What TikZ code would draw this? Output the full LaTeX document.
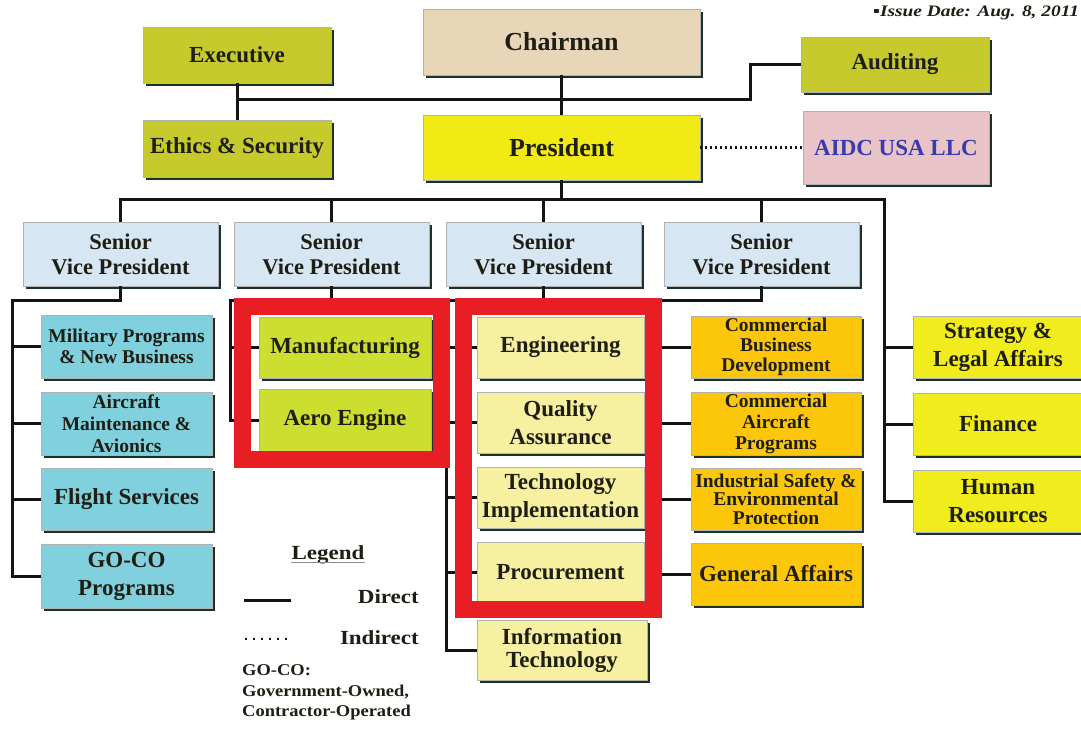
\documentclass[tikz,border=0pt]{standalone}
\usepackage{fontspec}
\setmainfont{Liberation Serif}
\usepackage{graphicx}
\usetikzlibrary{shadows}
\definecolor{olivec}{RGB}{198,202,44}
\definecolor{greenc}{RGB}{204,222,48}
\definecolor{beigec}{RGB}{232,214,184}
\definecolor{presc}{RGB}{242,234,20}
\definecolor{pinkc}{RGB}{232,196,200}
\definecolor{bluet}{RGB}{58,58,170}
\definecolor{svpc}{RGB}{214,230,242}
\definecolor{tealc}{RGB}{128,208,222}
\definecolor{palec}{RGB}{246,240,160}
\definecolor{orangec}{RGB}{252,198,10}
\definecolor{yellc}{RGB}{240,236,30}
\definecolor{redc}{RGB}{232,30,36}
\definecolor{txtc}{RGB}{30,30,20}
\definecolor{shadc}{RGB}{28,50,40}
\definecolor{linec}{RGB}{20,20,20}
\newcommand\fz[2]{\fontsize{#1}{#2}\selectfont\bfseries}
\tikzset{
  box/.style={draw=black!30, line width=0.8pt, inner sep=0pt, align=center, text=txtc,
    drop shadow={shadow xshift=3pt, shadow yshift=-3pt, fill=shadc, opacity=1}},
  conn/.style={draw=linec, line width=3pt},
  dotc/.style={draw=linec, line width=2.2pt, dash pattern=on 2pt off 3pt},
  hilite/.style={draw=redc, line width=17pt},
  legtext/.style={inner sep=0pt, text=txtc}
}
\begin{document}
\begin{tikzpicture}[x=1pt,y=-1pt]
\fill[white] (0,0) rectangle (1081,735);
\useasboundingbox (0,0) rectangle (1081,735);
\clip (0,0) rectangle (1081,735);

% top level
\node[box, fill=olivec, minimum width=188pt, minimum height=56pt, font=\fz{23}{25}] (exec) at (237,55) {Executive};
\node[box, fill=beigec, minimum width=277pt, minimum height=66pt, font=\fz{26}{28}] (chair) at (561.5,42) {Chairman};
\node[box, fill=olivec, minimum width=188pt, minimum height=55pt, font=\fz{23}{25}] (audit) at (895,64.5) {Auditing};
\node[box, fill=olivec, minimum width=188pt, minimum height=57pt, font=\fz{23}{25}] (ethics) at (237,148.5) {Ethics \& Security};
\node[box, fill=presc, minimum width=277pt, minimum height=65pt, font=\fz{26}{28}] (pres) at (561.5,147.5) {President};
\node[box, fill=pinkc, minimum width=186pt, minimum height=73pt, font=\fz{23}{25}, text=bluet] (aidc) at (896,147.5) {AIDC USA LLC};

% senior vice presidents
\foreach \n/\x in {svp1/120.5, svp2/331.5, svp3/543.5, svp4/761.5}
  \node[box, fill=svpc, minimum width=195pt, minimum height=64pt, font=\fz{22.5}{25}] (\n) at (\x,254) {Senior\\Vice President};

% column 1
\node[box, fill=tealc, minimum width=171pt, minimum height=63pt, font=\fz{19.5}{21}] (mil) at (126.5,346.5) {Military Programs\\\& New Business};
\node[box, fill=tealc, minimum width=171pt, minimum height=63pt, font=\fz{19.5}{22}] (acm) at (126.5,423.5) {Aircraft\\Maintenance \&\\Avionics};
\node[box, fill=tealc, minimum width=171pt, minimum height=62pt, font=\fz{23}{25}] (fs) at (126.5,499) {Flight Services};
\node[box, fill=tealc, minimum width=171pt, minimum height=64pt, font=\fz{23}{28}] (goco) at (126.5,576) {GO-CO\\Programs};

% column 2
\node[box, fill=greenc, minimum width=172pt, minimum height=61pt, font=\fz{23}{25}] (mfg) at (345,347.5) {Manufacturing};
\node[box, fill=greenc, minimum width=172pt, minimum height=62pt, font=\fz{23}{25}] (aero) at (345,420) {Aero Engine};

% column 3
\node[box, fill=palec, minimum width=167pt, minimum height=61pt, font=\fz{23}{25}] (eng) at (560.5,347.5) {Engineering};
\node[box, fill=palec, minimum width=167pt, minimum height=61pt, font=\fz{23}{28}] (qa) at (560.5,422.5) {Quality\\Assurance};
\node[box, fill=palec, minimum width=167pt, minimum height=61pt, font=\fz{23}{28}] (ti) at (560.5,497.5) {Technology\\Implementation};
\node[box, fill=palec, minimum width=167pt, minimum height=60pt, font=\fz{23}{25}] (proc) at (560.5,572) {Procurement};
\node[box, fill=palec, minimum width=170pt, minimum height=60pt, font=\fz{23}{23}] (it) at (562,650) {Information\\Technology};

% column 4
\node[box, fill=orangec, minimum width=170pt, minimum height=62pt, font=\fz{19.5}{20}] (cbd) at (776,347) {Commercial\\Business\\Development};
\node[box, fill=orangec, minimum width=170pt, minimum height=63pt, font=\fz{19.5}{21}] (cap) at (776,423.5) {Commercial\\Aircraft\\Programs};
\node[box, fill=orangec, minimum width=170pt, minimum height=62pt, font=\fz{19.5}{18.5}] (isep) at (776,499) {Industrial Safety \&\\Environmental\\Protection};
\node[box, fill=orangec, minimum width=170pt, minimum height=62pt, font=\fz{23}{25}] (ga) at (776,574) {General Affairs};

% column 5
\node[box, fill=yellc, minimum width=170pt, minimum height=62pt, font=\fz{23}{28}] (strat) at (998,347) {Strategy \&\\Legal Affairs};
\node[box, fill=yellc, minimum width=170pt, minimum height=62pt, font=\fz{23}{25}] (fin) at (998,424) {Finance};
\node[box, fill=yellc, minimum width=170pt, minimum height=62pt, font=\fz{23}{28}] (hres) at (998,501) {Human\\Resources};

% connectors: top
\coordinate (ja) at (750,100);
\draw[conn] (exec.south) -- (ethics.north);
\draw[conn] (exec.south |- ja) -- (ja) |- (audit.west);
\draw[conn] (chair.south) -- (pres.north);
\draw[dotc] (pres.east) -- (aidc.west);

\coordinate (hl) at (120.5,200);
\coordinate (hrr) at (884,200);
\draw[conn] (pres.south) -- (pres.south |- hl);
\draw[conn] (svp1.north) -- (hl) -- (hrr) |- (hres.west);
\draw[conn] (svp2.north) -- (svp2.north |- hl);
\draw[conn] (svp3.north) -- (svp3.north |- hl);
\draw[conn] (svp4.north) -- (svp4.north |- hl);
\draw[conn] (strat.west) -- (strat.west -| hrr);
\draw[conn] (fin.west) -- (fin.west -| hrr);

% column 1
\coordinate (c1t) at (12,300);
\draw[conn] (svp1.south) |- (c1t) |- (goco.west);
\foreach \b in {mil, acm, fs} \draw[conn] (\b.west) -- (\b.west -| c1t);

% column 2
\coordinate (c2t) at (230,300);
\draw[conn] (svp2.south) |- (c2t) |- (aero.west);
\draw[conn] (mfg.west) -- (mfg.west -| c2t);

% column 3
\coordinate (c3t) at (446,300);
\draw[conn] (svp3.south) |- (c3t) |- (it.west);
\foreach \b in {eng, qa, ti, proc} \draw[conn] (\b.west) -- (\b.west -| c3t);

% column 4
\coordinate (c4t) at (658,300);
\draw[conn] (svp4.south) |- (c4t) |- (ga.west);
\foreach \b in {cbd, cap, isep} \draw[conn] (\b.west) -- (\b.west -| c4t);

% highlight rectangles
\draw[hilite] (242.5,306.5) rectangle (441.5,459.5);
\draw[hilite] (463.5,306.5) rectangle (653.5,609.5);

% legend
\node[legtext, font=\fz{20}{22}] (legend) at (328,555) {\scalebox{1.15}[1]{Legend}};
\draw[black!45, line width=0.8pt] ([yshift=-2.5pt]legend.base west) -- ([yshift=-2.5pt]legend.base east);
\coordinate (ld1) at (244,600);
\coordinate (ld2) at (291,600);
\draw[conn] (ld1) -- (ld2);
\node[legtext, font=\fz{20}{22}, anchor=east] (direct) at (419,597) {\scalebox{1.15}[1]{Direct}};
\coordinate (li1) at (245,639);
\coordinate (li2) at (290,639);
\draw[draw=linec, line width=2pt, dash pattern=on 2pt off 6pt] (li1) -- (li2);
\node[legtext, font=\fz{20}{22}, anchor=east] (indirect) at (419,638) {\scalebox{1.15}[1]{Indirect}};
\node[legtext, font=\fz{16.5}{18}, anchor=west] (gc1) at (242,670) {\scalebox{1.12}[1]{GO-CO:}};
\node[legtext, font=\fz{16.5}{18}, anchor=west] (gc2) at (242,692) {\scalebox{1.12}[1]{Government-Owned,}};
\node[legtext, font=\fz{16.5}{18}, anchor=west] (gc3) at (242,713) {\scalebox{1.12}[1]{Contractor-Operated}};

% issue date
\node[legtext, font=\fontsize{16}{18}\selectfont\bfseries\itshape, anchor=west] (issue) at (873,13) {\scalebox{1.21}[1]{▪Issue Date: Aug. 8, 2011}};
\end{tikzpicture}
\end{document}
